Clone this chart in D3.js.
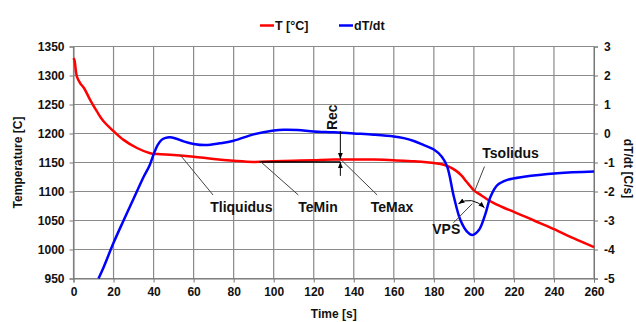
<!DOCTYPE html>
<html>
<head>
<meta charset="utf-8">
<script src="https://cdn.jsdelivr.net/npm/d3@7"></script>
<style>
  body { margin: 0; background: #fff; }
  text { font-family: "Liberation Sans", Arial, sans-serif; font-weight: bold; fill: #111; }
</style>
</head>
<body>
<div class="chart"></div>
<script>
// temperature curve T [°C]
const tTime = [0, 0.5, 1.7, 3.3, 5.3, 8.3, 11.7, 15, 20, 25, 31.7, 38.3, 42, 50, 60, 70, 80, 90, 100, 110, 120, 130, 140, 150, 160, 170, 175, 180, 185, 188, 191, 194, 196, 198, 200, 203, 206, 210, 215, 220, 230, 240, 250, 260];
const tValues = [1330, 1326, 1298, 1287, 1278, 1258, 1238, 1221, 1204, 1189, 1175, 1166, 1164.5, 1163, 1160, 1156, 1153, 1151, 1152, 1153, 1154, 1155, 1155, 1155, 1154, 1152, 1151, 1149, 1146, 1142, 1136, 1127, 1118, 1110, 1102, 1095, 1088, 1080, 1072, 1065, 1050, 1035, 1019, 1004];

// cooling rate dT/dt [C/s]
const rTime = [12.5, 15, 20, 25, 30, 35, 38, 40, 42, 44, 46, 48, 51, 55, 60, 66, 73, 80, 90, 100, 105, 112, 120, 130, 140, 150, 160, 165, 170, 175, 180, 184, 186.7, 190, 193.3, 196.7, 199.2, 202.5, 205.8, 208.3, 211.7, 216.7, 225, 241.7, 260];
const rValues = [-5, -4.62, -3.77, -3.0, -2.25, -1.5, -1.1, -0.72, -0.4, -0.22, -0.15, -0.13, -0.17, -0.27, -0.36, -0.4, -0.34, -0.25, -0.03, 0.1, 0.13, 0.12, 0.07, 0.04, 0, -0.04, -0.1, -0.16, -0.26, -0.4, -0.55, -0.8, -1.15, -2.18, -2.99, -3.39, -3.5, -3.33, -2.76, -2.18, -1.78, -1.6, -1.49, -1.37, -1.31];

const xTicks = d3.range(0, 261, 20);
const yLeftTicks = d3.range(950, 1351, 50);
const yRightTicks = d3.range(-5, 4, 1);

// annotation labels, in data units (time, temperature)
const labels = [
  { text: "Tliquidus", t: 68.3, T: 1064, from: [53.3, 1163], to: [69.7, 1094] },
  { text: "TeMin", t: 112.3, T: 1064, from: [93.3, 1152], to: [112.3, 1094] },
  { text: "TeMax", t: 148.5, T: 1064, from: [133.3, 1156], to: [151.7, 1094] },
  { text: "Tsolidus", t: 204.2, T: 1158, from: [205.3, 1143], to: [200.4, 1101] },
  { text: "VPS", t: 179.2, T: 1026, from: [189.8, 1046], to: [199.2, 1079] }
];

const W = 636, H = 322;
const margin = { top: 46.5, right: 42, bottom: 43.5, left: 73.5 };

const svg = d3.select(".chart").append("svg")
  .attr("width", W).attr("height", H);

const x = d3.scaleLinear().domain([0, 260]).range([margin.left, W - margin.right]);
const yL = d3.scaleLinear().domain([950, 1350]).range([H - margin.bottom, margin.top]);
const yR = d3.scaleLinear().domain([-5, 3]).range([H - margin.bottom, margin.top]);

// grid
svg.append("g").selectAll("line").data(xTicks).enter().append("line")
  .attr("x1", d => x(d)).attr("x2", d => x(d))
  .attr("y1", margin.top).attr("y2", H - margin.bottom)
  .attr("stroke", "#8a8a8a").attr("stroke-width", 1.2);
svg.append("g").selectAll("line").data(yLeftTicks).enter().append("line")
  .attr("x1", margin.left).attr("x2", W - margin.right)
  .attr("y1", d => yL(d)).attr("y2", d => yL(d))
  .attr("stroke", "#8a8a8a").attr("stroke-width", 1.2);

// axes
const plain = d => String(d);
const axB = svg.append("g")
  .attr("transform", "translate(0," + (H - margin.bottom) + ")")
  .call(d3.axisBottom(x).tickValues(xTicks).tickFormat(plain).tickSize(4).tickPadding(5));
const axL = svg.append("g")
  .attr("transform", "translate(" + margin.left + ",0)")
  .call(d3.axisLeft(yL).tickValues(yLeftTicks).tickFormat(plain).tickSize(4).tickPadding(5));
const axR = svg.append("g")
  .attr("transform", "translate(" + (W - margin.right) + ",0)")
  .call(d3.axisRight(yR).tickValues(yRightTicks).tickFormat(plain).tickSize(4).tickPadding(6));

[axB, axL, axR].forEach(a => {
  a.select(".domain").attr("stroke", "#777");
  a.selectAll(".tick line").attr("stroke", "#777");
  a.selectAll("text").attr("font-size", 12).attr("font-family", "Liberation Sans, Arial, sans-serif")
    .attr("font-weight", "bold").attr("fill", "#111");
});

// curves
const redLine = d3.line()
  .x((d, i) => x(tTime[i])).y(d => yL(d))
  .curve(d3.curveCatmullRom.alpha(0.5));
const blueLine = d3.line()
  .x((d, i) => x(rTime[i])).y(d => yR(d))
  .curve(d3.curveCatmullRom.alpha(0.5));

svg.append("path").datum(tValues)
  .attr("fill", "none").attr("stroke", "#ff0000").attr("stroke-width", 2.5)
  .attr("d", redLine);

// TeMin -> TeMax level line
svg.append("line")
  .attr("x1", x(93)).attr("x2", x(133.3))
  .attr("y1", yL(1151)).attr("y2", yL(1151))
  .attr("stroke", "#000").attr("stroke-width", 1.5);

svg.append("path").datum(rValues)
  .attr("fill", "none").attr("stroke", "#0000ff").attr("stroke-width", 2.5)
  .attr("d", blueLine);

// arrow markers
const defs = svg.append("defs");
defs.append("marker").attr("id", "arr")
  .attr("viewBox", "0 0 10 10").attr("refX", 10).attr("refY", 5)
  .attr("markerWidth", 6).attr("markerHeight", 6).attr("orient", "auto-start-reverse")
  .append("path").attr("d", "M0,1 L10,5 L0,9 Z").attr("fill", "#000");

// leaders and labels
labels.forEach(l => {
  svg.append("line")
    .attr("x1", x(l.from[0])).attr("y1", yL(l.from[1]))
    .attr("x2", x(l.to[0])).attr("y2", yL(l.to[1]))
    .attr("stroke", "#444").attr("stroke-width", 1);
  svg.append("text").attr("x", x(l.t)).attr("y", yL(l.T))
    .attr("font-size", 14).text(l.text);
});

// Rec marker
svg.append("line")
  .attr("x1", x(133.3)).attr("x2", x(133.3))
  .attr("y1", yL(1204)).attr("y2", yL(1156))
  .attr("stroke", "#000").attr("stroke-width", 1)
  .attr("marker-end", "url(#arr)");
svg.append("line")
  .attr("x1", x(133.3)).attr("x2", x(133.3))
  .attr("y1", yL(1127)).attr("y2", yL(1151))
  .attr("stroke", "#000").attr("stroke-width", 1)
  .attr("marker-end", "url(#arr)");
svg.append("text")
  .attr("transform", "translate(" + x(131.7) + "," + yL(1228) + ") rotate(-90)")
  .attr("text-anchor", "middle").attr("font-size", 14).text("Rec");

// VPS angle arc
const arc = d3.path();
arc.moveTo(x(192.3), yL(1079));
arc.quadraticCurveTo(x(198.8), yL(1093), x(205.3), yL(1072));
svg.append("path").attr("d", arc.toString())
  .attr("fill", "none").attr("stroke", "#000").attr("stroke-width", 1)
  .attr("marker-start", "url(#arr)").attr("marker-end", "url(#arr)");

// axis titles
svg.append("text").attr("x", (margin.left + W - margin.right) / 2).attr("y", 318)
  .attr("text-anchor", "middle").attr("font-size", 12).text("Time [s]");
svg.append("text")
  .attr("transform", "translate(22," + ((margin.top + H - margin.bottom) / 2) + ") rotate(-90)")
  .attr("text-anchor", "middle").attr("font-size", 12).text("Temperature [C]");
svg.append("text")
  .attr("transform", "translate(624," + ((margin.top + H - margin.bottom) / 2 + 6) + ") rotate(90)")
  .attr("text-anchor", "middle").attr("font-size", 12).text("dT/dt [C/s]");

// legend
const legend = [{ name: "T [°C]", color: "#ff0000", x: 260 }, { name: "dT/dt", color: "#0000ff", x: 339 }];
legend.forEach(d => {
  svg.append("line").attr("x1", d.x).attr("x2", d.x + 14).attr("y1", 25.5).attr("y2", 25.5)
    .attr("stroke", d.color).attr("stroke-width", 2.5);
  svg.append("text").attr("x", d.x + 15).attr("y", 30).attr("font-size", 12.5).text(d.name);
});
</script>
</body>
</html>
